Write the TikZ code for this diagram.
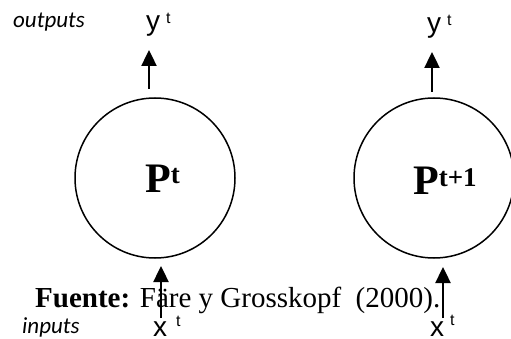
\documentclass[tikz,border=0pt]{standalone}
\usepackage{fontspec}
\setmainfont{Liberation Serif}
\newfontfamily\arialf{Liberation Sans}
\newfontfamily\calif{Carlito}
\usetikzlibrary{arrows.meta}
\begin{document}
\begin{tikzpicture}[x=1pt,y=-1pt,
  proc/.style={circle,draw,line width=1.5pt,minimum size=160pt,inner sep=0pt},
  arr/.style={line width=2.4pt,-{Triangle[width=15pt,length=16pt]}},
  varlab/.style={anchor=base west,inner sep=0pt,font=\arialf\fontsize{28}{28}\selectfont},
  sidelab/.style={anchor=base west,inner sep=0pt,font=\calif\itshape\fontsize{23}{23}\selectfont},
  plab/.style={anchor=base west,inner sep=0pt,font=\bfseries\fontsize{42}{42}\selectfont}]
\useasboundingbox (0,0) rectangle (511,339);
% circles
\node[proc] (c1) at (155,178) {};
\node[proc] (c2) at (434,178) {};
\node[plab] (p1) at (145,193) {P\raisebox{9pt}{\fontsize{27}{27}\selectfont t}};
\node[plab] (p2) at (413,195) {P\raisebox{9pt}{\fontsize{27}{27}\selectfont t+1}};
% labels
\node[sidelab] (out) at (13,28) {outputs};
\node[sidelab] (inp) at (22,333) {inputs};
\node[varlab] (y1) at (146,31) {y\hspace{6pt}\raisebox{7pt}{\fontsize{16}{16}\selectfont t}};
\node[varlab] (y2) at (427,33) {y\hspace{6pt}\raisebox{7pt}{\fontsize{16}{16}\selectfont t}};
\node[varlab,text depth=0pt] (x1) at (153,336) {x\hspace{9pt}\raisebox{10pt}{\fontsize{16}{16}\selectfont t}};
\node[varlab,text depth=0pt] (x2) at (430,336) {x\hspace{6pt}\raisebox{11pt}{\fontsize{16}{16}\selectfont t}};
% arrow end points
\coordinate (t1a) at (149,89);  \coordinate (t1b) at (149,50);
\coordinate (t2a) at (432,92);  \coordinate (t2b) at (432,52);
\coordinate (b1a) at (161,318); \coordinate (b1b) at (161,266);
\coordinate (b2a) at (443,318); \coordinate (b2b) at (443,267);
\draw[arr] (t1a) -- (t1b);
\draw[arr] (t2a) -- (t2b);
% source text
\node[anchor=base west,inner sep=0pt,font=\fontsize{29}{29}\selectfont] (src) at (35,307) {\textbf{Fuente:} Färe y Grosskopf\ \ (2000).};
\draw[arr] (b1a) -- (b1b);
\draw[arr] (b2a) -- (b2b);
\end{tikzpicture}
\end{document}
